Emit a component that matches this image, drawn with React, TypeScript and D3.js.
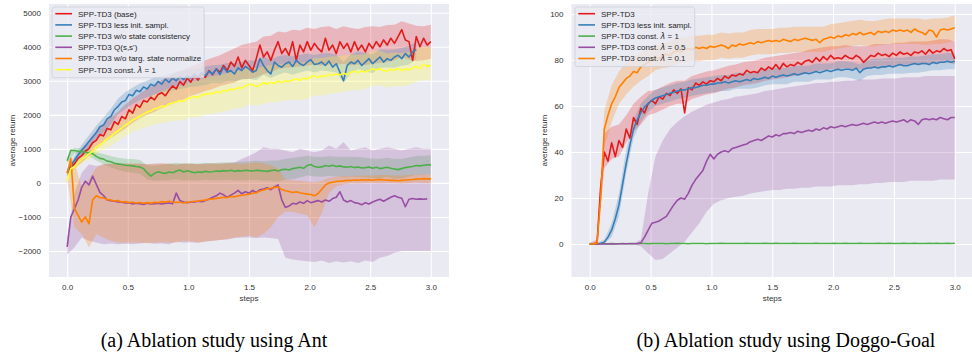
import React, { useEffect, useRef } from 'react'
import * as d3 from 'd3'

// evaluation grid (million steps): means logged every 0.03, std bands every 0.06
const stepsFine = d3.range(101).map((i) => +(i * 0.03).toFixed(2))
const stepsBand = d3.range(51).map((i) => +(i * 0.06).toFixed(2))
const stepTicks = [0, 0.5, 1, 1.5, 2, 2.5, 3]
const antTicks = [-2000, -1000, 0, 1000, 2000, 3000, 4000, 5000]
const doggoTicks = [0, 20, 40, 60, 80, 100]

const antLabels = [
  'SPP-TD3 (base)',
  'SPP-TD3 less init. sampl.',
  'SPP-TD3 w/o state consistency',
  "SPP-TD3 Q(s,s')",
  'SPP-TD3 w/o targ. state normalize',
  'SPP-TD3 const. λ = 1',
]
const doggoLabels = [
  'SPP-TD3',
  'SPP-TD3 less init. sampl.',
  'SPP-TD3 const. λ = 1',
  'SPP-TD3 const. λ = 0.5',
  'SPP-TD3 const. λ = 0.1',
]

// ---- Ant ----
const antBase = [
  300, 480, 560, 720, 800, 930, 1010, 1180, 1250, 1420,
  1380, 1600, 1560, 1800, 1720, 1950, 1880, 2150, 2050, 2300,
  2220, 2420, 2380, 2520, 2440, 2600, 2650, 2560, 2720, 2850,
  2760, 2980, 2870, 3080, 2960, 3150, 3020, 3220, 3100, 3300,
  3180, 3350, 3250, 3450, 3300, 3550, 3420, 3700, 3380, 3600,
  3450, 3300, 3650, 4050, 3700, 3850, 3600, 3900, 4150, 3800,
  3950, 3750, 4150, 3600, 4050, 3850, 4150, 3900, 4100, 3950,
  3850, 4250, 3900, 4050, 3800, 4150, 3950, 4100, 3850, 4150,
  3900, 4050, 3850, 4100, 3950, 4150, 4000, 4200, 4050, 4250,
  4100, 4300, 4500, 4200, 4150, 3600, 4300, 4000, 4250, 4050,
  4150,
]
const antBaseLo = [
  200, 420, 600, 800, 1000, 1180, 1320, 1460, 1600, 1760,
  1900, 2000, 2080, 2200, 2280, 2360, 2450, 2560, 2620, 2700,
  2760, 2850, 2900, 2950, 3050, 3050, 3100, 3200, 3250, 3350,
  3380, 3400, 3420, 3450, 3480, 3450, 3480, 3470, 3500, 3450,
  3480, 3460, 3500, 3520, 3550, 3600, 3700, 3620, 3580, 3600,
  3650,
]
const antBaseHi = [
  400, 720, 1020, 1250, 1500, 1740, 1920, 2100, 2300, 2480,
  2620, 2780, 2880, 3020, 3120, 3250, 3330, 3420, 3500, 3600,
  3680, 3750, 3850, 3950, 4050, 4100, 4150, 4300, 4320, 4450,
  4420, 4500, 4480, 4560, 4520, 4580, 4600, 4520, 4600, 4550,
  4520, 4580, 4600, 4580, 4640, 4650, 4750, 4680, 4620, 4600,
  4650,
]

const antLessInit = [
  300, 520, 660, 820, 960, 1080, 1220, 1350, 1480, 1650,
  1700, 1880, 1950, 2150, 2250, 2380, 2420, 2600, 2560, 2720,
  2680, 2820, 2760, 2900, 2850, 2980, 2900, 3050, 2950, 3080,
  3000, 3120, 3040, 3150, 3080, 3200, 3100, 3250, 3150, 3280,
  3200, 3350, 3180, 3400, 3250, 3300, 3200, 3380, 3300, 3420,
  3350, 3250, 3300, 3650, 3450, 3300, 3200, 3550, 3450, 3400,
  3500, 3550, 3420, 3600, 3500, 3450, 3550, 3620, 3480, 3500,
  3550, 3450, 3580, 3400, 3500, 3250, 3000, 3450, 3550, 3500,
  3600, 3450, 3550, 3650, 3500, 3600, 3700, 3550, 3650, 3600,
  3700, 3750, 3650, 3800, 3700, 3850, 3920, null, null, null,
  null,
]
const antLessInitLo = [
  200, 520, 800, 1040, 1280, 1480, 1720, 2020, 2180, 2320,
  2440, 2520, 2600, 2650, 2700, 2740, 2780, 2820, 2840, 2880,
  2940, 2930, 2980, 2980, 3040, 3060, 3020, 3180, 3080, 3180,
  3240, 3180, 3240, 3300, 3240, 3300, 3280, 3240, 2950, 3220,
  3340, 3280, 3220, 3380, 3390, 3380, 3440, 3480, 3650, null,
  null,
]
const antLessInitHi = [
  400, 800, 1120, 1400, 1680, 1920, 2180, 2480, 2660, 2800,
  2920, 3000, 3100, 3150, 3200, 3260, 3300, 3340, 3360, 3420,
  3460, 3470, 3520, 3520, 3560, 3600, 3580, 3720, 3620, 3720,
  3760, 3720, 3760, 3800, 3760, 3800, 3820, 3760, 3550, 3780,
  3860, 3820, 3780, 3920, 3910, 3920, 3960, 4020, 4150, null,
  null,
]

const antNoConsistency = [
  650, 960, 950, 930, 920, 900, 880, 860, 780, 720,
  700, 640, 620, 580, 560, 540, 520, 510, 500, 480,
  470, 420, 300, 200, 280, 330, 300, 280, 320, 300,
  350, 380, 320, 360, 330, 300, 320, 310, 340, 320,
  330, 350, 340, 360, 350, 370, 340, 360, 350, 370,
  360, 350, 370, 360, 350, 340, 360, 380, 350, 390,
  400, 380, 420, 440, 460, 430, 510, 540, 480, 460,
  470, 510, 490, 520, 480, 500, 470, 460, 480, 450,
  470, 440, 450, 470, 430, 460, 420, 440, 460, 430,
  410, 390, 420, 450, 470, 480, 510, 500, 520, 530,
  530,
]
const antNoConsistencyLo = [
  550, 870, 830, 780, 660, 550, 450, 380, 330, 300,
  270, 100, 60, 70, 80, 110, 70, 80, 70, 90,
  80, 80, 90, 70, 80, 80, 90, 60, 60, 40,
  90, 110, 160, 220, 190, 180, 200, 190, 180, 190,
  180, 160, 140, 130, 180, 120, 130, 190, 230, 240,
  250,
]
const antNoConsistencyHi = [
  750, 1030, 1010, 980, 900, 850, 790, 740, 710, 700,
  670, 520, 500, 530, 560, 590, 570, 580, 570, 590,
  580, 600, 610, 610, 620, 640, 650, 640, 660, 660,
  710, 730, 760, 800, 770, 760, 780, 770, 760, 770,
  760, 740, 720, 710, 740, 700, 710, 750, 790, 800,
  810,
]

const antQss = [
  -1880, -1000, -760, -500, -130, 50, -60, 200, -40, -280,
  -370, -500, -520, -540, -560, -570, -590, -580, -620, -600,
  -610, -630, -600, -620, -610, -600, -620, -600, -590, -610,
  -300, -520, -560, -580, -570, -560, -540, -550, -520, -480,
  -420, -380, -300, -350, -420, -360, -300, -220, -320, -260,
  -300, -220, -280, -200, -180, -140, -200, -120, -60, -500,
  -720, -680, -600, -620, -560, -600, -520, -580, -550, -520,
  -560, -500, -540, -460, -420, -260, -500, -560, -520, -580,
  -600, -640, -580, -620, -560, -520, -480, -540, -480, -420,
  -380, -420, -450, -700, -480, -460, -480, -470, -480, -470,
  null,
]
const antQssLo = [
  -2100, -1900, -1600, -1700, -1750, -1800, -1780, -1800, -1790, -1800,
  -1780, -1760, -1790, -1780, -1800, -1720, -1760, -1740, -1760, -1720,
  -1700, -1680, -1660, -1620, -1600, -1600, -1620, -1600, -1620, -1650,
  -2200, -2250, -2280, -2300, -2320, -2280, -2350, -2300, -2340, -2300,
  -2350, -2280, -2320, -2200, -2150, -2050, -2000, -2000, -2000, -2000,
  -2000,
]
const antQssHi = [
  -1600, -300, 300, 550, 500, 550, 560, 560, 570, 560,
  560, 550, 560, 570, 560, 540, 560, 560, 550, 560,
  570, 560, 580, 600, 700, 800, 900, 1050, 1000, 1000,
  950, 900, 1000, 950, 900, 950, 1100, 1000, 1200, 950,
  1000, 1050, 950, 1000, 1050, 1000, 950, 1000, 1050, 1000,
  1000,
]

const antNoNormalize = [
  280, 720, -750, -950, -1150, -1000, -1200, -500, -380, -430,
  -440, -490, -500, -530, -520, -560, -550, -580, -570, -590,
  -575, -600, -580, -595, -570, -580, -550, -565, -540, -560,
  -575, -560, -590, -570, -560, -540, -535, -515, -505, -480,
  -470, -455, -440, -420, -430, -400, -410, -380, -360, -350,
  -330, -300, -290, -240, -210, -170, -160, -130, -120, -190,
  -230, -250, -280, -260, -290, -310, -330, -340, -380, -310,
  -190, -60, 0, 20, 40, 50, 60, 75, 70, 85,
  80, 95, 85, 90, 80, 95, 100, 90, 85, 75,
  80, 65, 75, 85, 95, 100, 110, 115, 125, 120,
  120,
]
const antNoNormalizeLo = [
  100, -1300, -1500, -1900, -1500, -1600, -1700, -1750, -1760, -1750,
  -1760, -1770, -1760, -1740, -1750, -1760, -1700, -1720, -1750, -1720,
  -1700, -1680, -1650, -1600, -1580, -1550, -1600, -1500, -1300, -1000,
  -850, -850, -900, -950, -1300, -900, -300, -100, -50, 0,
  -20, 0, 0, -10, 0, 0, -20, 0, 10, 0,
  0,
]
const antNoNormalizeHi = [
  400, 600, -100, 100, 450, 550, 560, 560, 570, 560,
  560, 550, 560, 570, 560, 540, 560, 560, 550, 560,
  570, 560, 580, 570, 560, 580, 600, 580, 520, 420,
  100, 80, 60, 40, 20, 60, 150, 180, 200, 200,
  210, 220, 220, 230, 230, 220, 220, 230, 240, 250,
  250,
]

const antConstLam = [
  60, 420, 470, 600, 700, 760, 850, 930, 1060, 1120,
  1200, 1300, 1360, 1460, 1530, 1620, 1700, 1760, 1850, 1900,
  1960, 2020, 2080, 2110, 2180, 2200, 2260, 2240, 2320, 2350,
  2380, 2420, 2400, 2470, 2500, 2540, 2510, 2580, 2600, 2630,
  2620, 2680, 2650, 2720, 2700, 2760, 2740, 2800, 2780, 2850,
  2900, 2880, 2830, 2870, 2950, 2900, 2960, 2920, 2990, 2950,
  3000, 2980, 3020, 3060, 3010, 3080, 3050, 3120, 3150, 3100,
  3150, 3130, 3190, 3160, 3200, 3170, 3220, 3180, 3250, 3280,
  3240, 3290, 3260, 3300, 3350, 3320, 3360, 3300, 3280, 3340,
  3310, 3360, 3300, 3350, 3320, 3380, 3420, 3360, 3480, 3430,
  3450,
]
const antConstLamLo = [
  0, 380, 570, 680, 860, 980, 1100, 1240, 1380, 1500,
  1580, 1660, 1720, 1760, 1800, 1840, 1840, 1920, 1920, 2000,
  2040, 2070, 2120, 2180, 2200, 2300, 2270, 2320, 2370, 2380,
  2420, 2440, 2430, 2470, 2560, 2570, 2610, 2640, 2680, 2720,
  2730, 2760, 2850, 2870, 2800, 2840, 2840, 2870, 2970, 3020,
  3000,
]
const antConstLamHi = [
  120, 560, 830, 1020, 1260, 1420, 1620, 1820, 2020, 2200,
  2340, 2480, 2600, 2700, 2780, 2850, 2880, 2980, 3000, 3100,
  3140, 3170, 3220, 3280, 3300, 3400, 3370, 3420, 3470, 3480,
  3520, 3540, 3530, 3570, 3670, 3670, 3710, 3720, 3740, 3770,
  3760, 3780, 3870, 3880, 3800, 3830, 3820, 3840, 3940, 4000,
  3970,
]

// ---- Doggo-Goal ----
const doggoBase = [
  0, 0, 0.5, 25, 40, 36, 44, 38, 45, 42,
  50, 46, 55, 52, 59, 57, 61, 62.5, 61, 64,
  63, 65.5, 64.5, 67, 65.5, 67.5, 57, 68, 67, 70,
  69, 70.5, 69.5, 71, 70.5, 72, 71, 73, 72, 73.5,
  73, 74, 73.5, 75.5, 74.5, 75, 74.5, 76.5, 75.5, 77,
  76, 78, 76, 78.5, 77, 78, 77.5, 79, 78, 79.5,
  80, 79, 81, 79.5, 81.5, 80, 82, 80.5, 81, 80.5,
  82, 81, 80.5, 82, 81, 79, 80.5, 82, 81.5, 83,
  82, 82.5, 81.5, 83, 82, 83.5, 82.5, 83, 82, 83.5,
  83, 84, 82.5, 84.5, 83, 84, 83.5, 85, 84, 84.5,
  80.5,
]
const doggoBaseLo = [
  -0.5, 0, 33, 37, 38, 44, 49, 52, 56, 57,
  58.5, 60, 61, 61, 63, 64, 65, 65.5, 66.5, 67.5,
  68, 69, 69.5, 70, 71, 71.5, 72, 72.5, 73, 73.5,
  74.5, 75, 75.5, 76, 76, 76.5, 76, 76, 76, 77,
  77, 77, 77.5, 77.5, 78, 78, 78, 78.5, 79, 79,
  78,
]
const doggoBaseHi = [
  0.5, 2, 48, 51, 52, 56, 61, 64, 66.5, 67,
  68.5, 70, 71, 71, 73, 74, 75, 75.5, 76.5, 77.5,
  78, 79, 79.5, 80, 81, 81.5, 82, 82.5, 83, 83.5,
  84.5, 85, 85.5, 86, 86, 86.5, 86, 86, 86, 87,
  87, 87, 87.5, 87.5, 88, 88, 88, 88.5, 89, 89,
  88,
]

const doggoLessInit = [
  0, 0, 0, 0.3, 0.8, 3, 6, 11, 17, 26,
  35, 43, 50, 54, 57, 59.5, 61, 62.5, 63.5, 64,
  64.5, 65, 65.5, 66, 66.5, 67, 67, 67.5, 68, 68,
  68.5, 69, 69, 69.5, 69.5, 70, 70, 70.5, 70, 70.5,
  71, 70.5, 71, 71.5, 71, 72, 71.5, 72, 72.5, 72,
  73, 72.5, 73, 73.5, 73, 73.5, 74, 73.5, 74, 74.5,
  74, 74.5, 75, 74.5, 75, 75.5, 75, 75.5, 76, 75.5,
  76, 76, 75.5, 76.5, 74.5, 76, 76.5, 76.5, 77, 76.5,
  77, 77, 77.5, 77, 77.5, 78, 77.5, 77.5, 78, 78.5,
  78, 78.5, 78.5, 78, 79, 78.5, 79, 79, 79.5, 79,
  79.5,
]
const doggoLessInitLo = [
  -0.3, -0.5, 0, 3, 12, 31, 46, 53, 57.5, 60,
  61, 62, 63, 63.5, 64.5, 65, 65.5, 66, 66.5, 66.5,
  67.5, 67.5, 67.5, 68, 69, 69.5, 69.5, 69.5, 70.5, 70.5,
  70.5, 71.5, 71.5, 71.5, 72.5, 72.5, 72, 71, 73, 73.5,
  73.5, 74, 74, 74, 74.5, 74.5, 75, 75.5, 75.5, 76,
  76,
]
const doggoLessInitHi = [
  0.3, 0.5, 2, 9, 22, 41, 54, 61, 64.5, 67,
  68, 69, 70, 70.5, 71.5, 72, 72.5, 73, 73.5, 73.5,
  74.5, 74.5, 74.5, 75, 76, 76.5, 76.5, 76.5, 77.5, 77.5,
  77.5, 78.5, 78.5, 78.5, 79.5, 79.5, 79, 78, 80, 80.5,
  80.5, 81, 81, 81, 81.5, 81.5, 82, 82.5, 82.5, 83,
  83,
]

const doggoLam1 = [
  0, 0, 0, 0.1, 0.1, 0.1, 0.2, 0.1, 0.1, 0.2,
  0.1, 0.2, 0.2, 0.1, 0.2, 0.2, 0.1, 0.2, 0.2, 0.2,
  0.2, 0.1, 0.2, 0.2, 0.3, 0.2, 0.2, 0.1, 0.2, 0.2,
  0.2, 0.2, 0.1, 0.2, 0.2, 0.2, 0.3, 0.2, 0.2, 0.2,
  0.2, 0.2, 0.2, 0.3, 0.2, 0.2, 0.2, 0.2, 0.3, 0.2,
  0.2, 0.3, 0.2, 0.2, 0.2, 0.2, 0.3, 0.2, 0.2, 0.2,
  0.2, 0.2, 0.3, 0.2, 0.2, 0.2, 0.2, 0.3, 0.2, 0.2,
  0.3, 0.2, 0.2, 0.2, 0.3, 0.2, 0.2, 0.2, 0.2, 0.3,
  0.2, 0.2, 0.3, 0.2, 0.2, 0.2, 0.3, 0.2, 0.2, 0.3,
  0.2, 0.2, 0.2, 0.3, 0.2, 0.3, 0.2, 0.2, 0.3, 0.2,
  0.3,
]

const doggoLam05 = [
  0, 0, 0, 0, 0, 0, 0, 0, 0.1, 0.1,
  0.1, 0.1, 0.1, 0.2, 0.5, 3, 6, 9, 9.5, 10,
  11, 12, 14.5, 17, 19, 20, 19.5, 22, 25.5, 28,
  30, 32, 36, 39, 37, 39, 40, 40.5, 40, 41.5,
  42, 42.5, 43, 43.5, 44.5, 45, 45.5, 45, 46, 47,
  46.5, 47.5, 47, 48, 48, 48.5, 48, 49, 48.5, 49,
  49.5, 49, 50, 49.5, 50.5, 50, 51, 50.5, 51, 51.5,
  51, 51.5, 52, 51.5, 52, 52.5, 52, 52.5, 53, 52.5,
  53, 52.5, 53, 53.5, 53, 53.5, 54, 53, 54, 53.5,
  52, 54, 54.5, 54, 54.5, 54, 55, 54.5, 54, 55,
  55,
]
const doggoLam05Lo = [
  0, 0, 0, 0, 0, 0, -0.2, -1, -4, -7,
  -6.5, -4, -1.5, 1, 5, 9, 14, 17.5, 19, 20,
  20.5, 21, 22, 22.5, 23, 23.5, 23.5, 24, 24, 24.5,
  24.5, 25, 25, 25, 25.5, 25.5, 25.5, 26, 26, 26.5,
  26.5, 27, 27, 27, 27.5, 27.5, 27.5, 27.5, 28, 28,
  28,
]
const doggoLam05Hi = [
  0.2, 0.2, 0.2, 0.2, 0.2, 0.2, 0.3, 2, 22, 38,
  45, 50, 53, 55.5, 57.5, 59, 60.5, 61.5, 62.5, 63,
  64, 64.5, 65, 65.5, 66.5, 67, 67.5, 68, 68.5, 69,
  69.5, 70, 70, 70.5, 70.5, 71, 71, 71.5, 71.5, 71.5,
  72, 72, 72, 72.5, 72.5, 72.5, 73, 73, 73, 73,
  73,
]

const doggoLam01 = [
  0, 0, 0.3, 20, 50, 56, 61, 64, 68, 70,
  72, 73, 75, 74.5, 77, 78, 79, 80.5, 81, 80.5,
  82, 82.5, 82, 83.5, 84, 83.5, 84.5, 85, 84.5, 85.5,
  85, 85.5, 85, 86, 85.5, 86, 86.5, 86, 85, 86.5,
  86, 87, 86.5, 87, 87.5, 87, 88, 87.5, 88, 88.5,
  88, 88.5, 88, 89, 88.5, 88, 89, 88.5, 89, 89.5,
  89, 88.5, 89, 87.5, 89, 89.5, 90, 89.5, 90.5, 90,
  91, 90.5, 91.5, 91, 92, 91, 91.5, 92, 91, 92.5,
  92, 92.5, 92, 93, 92.5, 93, 92.5, 93, 92, 93.5,
  92.5, 92, 91, 93, 92.5, 90, 93, 93.5, 93, 93.5,
  94,
]
const doggoLam01Lo = [
  -0.3, 0, 42, 53, 61, 65, 68.5, 71, 73, 75.5,
  76.5, 77, 78.5, 79, 79.5, 79.5, 80, 80, 81, 80.5,
  81, 81, 82, 82.5, 82.5, 82.5, 83, 83, 83.5, 83.5,
  83.5, 83.5, 83.5, 84.5, 85, 85.5, 86, 86.5, 86, 86,
  86.5, 87, 87, 87, 87, 87, 86.5, 87, 87, 87.5,
  88.5,
]
const doggoLam01Hi = [
  0.3, 1, 58, 69, 75, 79, 81.5, 83, 85, 86.5,
  87.5, 88, 89.5, 90, 90.5, 90.5, 91, 91, 92, 91.5,
  92, 92, 93, 93.5, 93.5, 93.5, 94, 94, 94.5, 94.5,
  94.5, 94.5, 94.5, 95.5, 96, 96.5, 97, 97.5, 97, 97,
  97.5, 98, 98, 98, 98, 98, 97.5, 98, 98, 98.5,
  99.5,
]

const SET1 = ['#e41a1c', '#377eb8', '#4daf4a', '#984ea3', '#ff7f00', '#ffff33']
const SANS = "'Liberation Sans', Arial, sans-serif"

const panels = [
  {
    left: 49, right: 449, top: 4, bottom: 277,
    yDomain: [-2764, 5256], yTicks: antTicks, yLabelX: 14.5,
    caption: '(a) Ablation study using Ant', captionX: 214,
    legendX: 52, legendY: 7,
    series: [
      { label: antLabels[0], mean: antBase, lo: antBaseLo, hi: antBaseHi, color: SET1[0] },
      { label: antLabels[1], mean: antLessInit, lo: antLessInitLo, hi: antLessInitHi, color: SET1[1] },
      { label: antLabels[2], mean: antNoConsistency, lo: antNoConsistencyLo, hi: antNoConsistencyHi, color: SET1[2] },
      { label: antLabels[3], mean: antQss, lo: antQssLo, hi: antQssHi, color: SET1[3] },
      { label: antLabels[4], mean: antNoNormalize, lo: antNoNormalizeLo, hi: antNoNormalizeHi, color: SET1[4] },
      { label: antLabels[5], mean: antConstLam, lo: antConstLamLo, hi: antConstLamHi, color: SET1[5] },
    ],
  },
  {
    left: 571.5, right: 973, top: 4, bottom: 277,
    yDomain: [-14.35, 104.35], yTicks: doggoTicks, yLabelX: 546.5,
    caption: '(b) Ablation study using Doggo-Goal', captionX: 786,
    legendX: 575, legendY: 7,
    series: [
      { label: doggoLabels[0], mean: doggoBase, lo: doggoBaseLo, hi: doggoBaseHi, color: SET1[0] },
      { label: doggoLabels[1], mean: doggoLessInit, lo: doggoLessInitLo, hi: doggoLessInitHi, color: SET1[1] },
      { label: doggoLabels[2], mean: doggoLam1, lo: null, hi: null, color: SET1[2] },
      { label: doggoLabels[3], mean: doggoLam05, lo: doggoLam05Lo, hi: doggoLam05Hi, color: SET1[3] },
      { label: doggoLabels[4], mean: doggoLam01, lo: doggoLam01Lo, hi: doggoLam01Hi, color: SET1[4] },
    ],
  },
]

const fmtY = (d: number) => (d < 0 ? '\u2212' + Math.abs(d) : String(d))

function drawPanel(svg: any, p: any, k: number) {
  const x = d3.scaleLinear().domain([-0.15, 3.15]).range([p.left, p.right])
  const y = d3.scaleLinear().domain(p.yDomain).range([p.bottom, p.top])
  const g = svg.append('g')

  g.append('rect')
    .attr('x', p.left).attr('y', p.top)
    .attr('width', p.right - p.left).attr('height', p.bottom - p.top)
    .attr('fill', '#eaeaf2')

  const xAxis = g.append('g')
    .attr('transform', `translate(0,${p.bottom})`)
    .call(d3.axisBottom(x).tickValues(stepTicks).tickSize(-(p.bottom - p.top)).tickPadding(7).tickFormat(d3.format('.1f')))
  const yAxis = g.append('g')
    .attr('transform', `translate(${p.left},0)`)
    .call(d3.axisLeft(y).tickValues(p.yTicks).tickSize(-(p.right - p.left)).tickPadding(8).tickFormat(fmtY))
  ;[xAxis, yAxis].forEach((a) => {
    a.select('.domain').remove()
    a.selectAll('line').attr('stroke', '#fff').attr('stroke-width', 1.1)
    a.selectAll('text').attr('fill', '#333').attr('font-size', 8).attr('font-family', SANS)
  })

  g.append('clipPath').attr('id', `clip-${k}`)
    .append('rect')
    .attr('x', p.left).attr('y', p.top)
    .attr('width', p.right - p.left).attr('height', p.bottom - p.top)
  const plot = g.append('g').attr('clip-path', `url(#clip-${k})`)

  // std bands
  p.series.forEach((s: any) => {
    if (!s.lo) return
    const area = d3.area<number>()
      .defined((_, i) => s.lo[i] != null && s.hi[i] != null)
      .x((d) => x(d))
      .y0((_, i) => y(s.lo[i]))
      .y1((_, i) => y(s.hi[i]))
    plot.append('path').datum(stepsBand)
      .attr('d', area)
      .attr('fill', s.color)
      .attr('fill-opacity', 0.25)
  })

  // mean curves
  p.series.forEach((s: any) => {
    const line = d3.line<number>()
      .defined((_, i) => s.mean[i] != null)
      .x((d) => x(d))
      .y((_, i) => y(s.mean[i]))
    plot.append('path').datum(stepsFine)
      .attr('d', line)
      .attr('fill', 'none')
      .attr('stroke', s.color)
      .attr('stroke-width', 1.6)
      .attr('stroke-linejoin', 'round')
  })

  // axis titles
  g.append('text')
    .attr('x', (p.left + p.right) / 2).attr('y', 300.5)
    .attr('text-anchor', 'middle')
    .attr('font-size', 8).attr('font-family', SANS).attr('fill', '#333')
    .text('steps')
  g.append('text')
    .attr('transform', `translate(${p.yLabelX},${(p.top + p.bottom) / 2}) rotate(-90)`)
    .attr('text-anchor', 'middle')
    .attr('font-size', 8).attr('font-family', SANS).attr('fill', '#333')
    .text('average return')

  // legend
  const lg = g.append('g').attr('transform', `translate(${p.legendX},${p.legendY})`)
  const frame = lg.append('rect')
  const rowH = 11.2
  let maxW = 0
  p.series.forEach((s: any, i: number) => {
    const cy = 6.7 + i * rowH
    lg.append('line')
      .attr('x1', 3.3).attr('x2', 20)
      .attr('y1', cy).attr('y2', cy)
      .attr('stroke', s.color).attr('stroke-width', 1.6)
    const t = lg.append('text')
      .attr('x', 26).attr('y', cy).attr('dy', '0.35em')
      .attr('font-size', 8).attr('font-family', SANS).attr('fill', '#262626')
    const parts = s.label.split('λ')
    parts.forEach((part: string, j: number) => {
      if (j > 0) t.append('tspan').attr('font-style', 'italic').attr('font-family', "'DejaVu Sans', sans-serif").text('λ')
      t.append('tspan').text(part)
    })
    const w = (t.node() as SVGTextElement).getComputedTextLength()
    if (w > maxW) maxW = w
  })
  frame
    .attr('width', 26 + maxW + 3)
    .attr('height', 6.7 + (p.series.length - 1) * rowH + 8)
    .attr('rx', 2.5)
    .attr('fill', '#eaeaf2').attr('fill-opacity', 0.8)
    .attr('stroke', '#cfcfd6').attr('stroke-width', 0.8)

  // caption
  svg.append('text')
    .attr('x', p.captionX).attr('y', 347)
    .attr('text-anchor', 'middle')
    .attr('font-size', 20)
    .attr('font-family', "'Liberation Serif', 'Times New Roman', serif")
    .attr('fill', '#000')
    .text(p.caption)
}

export default function App() {
  const ref = useRef<SVGSVGElement>(null)

  useEffect(() => {
    const svg = d3.select(ref.current)
    svg.selectAll('*').remove()
    panels.forEach((p, k) => drawPanel(svg, p, k))
    return () => {
      svg.selectAll('*').remove()
    }
  }, [])

  return (
    <svg
      ref={ref}
      width={972}
      height={360}
      style={{ position: 'absolute', left: 0, top: 0, background: '#fff' }}
    />
  )
}
